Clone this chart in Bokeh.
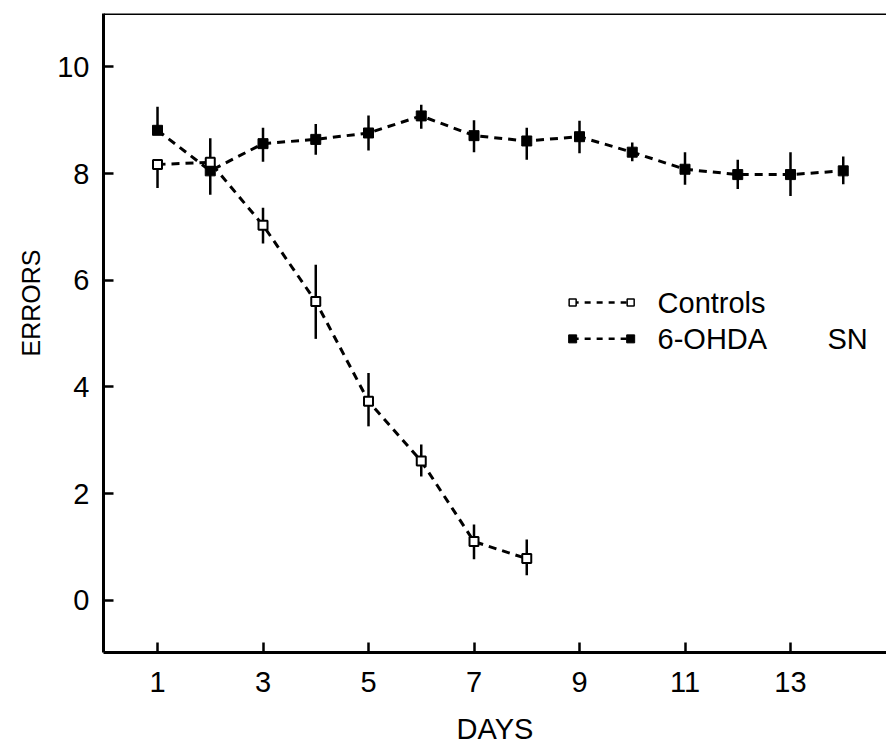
from bokeh.plotting import figure
from bokeh.models import Range1d, FixedTicker, Span, Label, Title
from bokeh.embed import file_html
from bokeh.resources import INLINE

# ---- data ----
days_controls = [1, 2, 3, 4, 5, 6, 7, 8]
errors_controls = [8.17, 8.21, 7.03, 5.60, 3.73, 2.61, 1.10, 0.78]
controls_hi = [8.17, 8.21, 7.36, 6.29, 4.26, 2.92, 1.42, 1.14]
controls_lo = [7.73, 8.21, 6.69, 4.90, 3.26, 2.32, 0.77, 0.47]

days_ohda = [1, 2, 3, 4, 5, 6, 7, 8, 9, 10, 11, 12, 13, 14]
errors_ohda = [8.81, 8.05, 8.56, 8.64, 8.76, 9.08, 8.71, 8.61, 8.69, 8.40, 8.08, 7.98, 7.98, 8.05]
ohda_hi = [9.25, 8.66, 8.86, 8.93, 9.09, 9.29, 9.00, 8.86, 8.99, 8.58, 8.40, 8.26, 8.40, 8.32]
ohda_lo = [8.81, 7.60, 8.22, 8.35, 8.43, 8.84, 8.40, 8.26, 8.38, 8.23, 7.79, 7.71, 7.58, 7.80]

x_ticks = [1, 3, 5, 7, 9, 11, 13]
y_ticks = [0, 2, 4, 6, 8, 10]

x_title = "DAYS"
y_title = "ERRORS"
legend_labels = ["Controls", "6-OHDA"]
legend_suffix = "SN"

FONT = "Liberation Sans"

p = figure(width=886, height=747, output_backend="svg", toolbar_location=None,
           x_range=Range1d(-0.024, 14.82), y_range=Range1d(-0.98, 11.0),
           min_border_left=103, min_border_right=0, min_border_top=13, min_border_bottom=95)
p.outline_line_color = None
p.grid.visible = False
p.background_fill_color = "white"

for ax in (p.xaxis[0], p.yaxis[0]):
    ax.axis_line_width = 3
    ax.axis_line_color = "black"
    ax.major_tick_in = 10
    ax.major_tick_out = 0
    ax.major_tick_line_width = 2.5
    ax.minor_tick_line_color = None
    ax.major_label_text_font = FONT
    ax.major_label_text_font_size = "29px"
    ax.major_label_text_color = "black"
    ax.axis_label_text_font = FONT
    ax.axis_label_text_font_style = "normal"
    ax.axis_label_text_color = "black"

p.xaxis.axis_label_text_font_size = "29px"
p.xaxis.ticker = FixedTicker(ticks=x_ticks)
p.yaxis.ticker = FixedTicker(ticks=y_ticks)
p.xaxis.major_label_standoff = 19
p.yaxis.major_label_standoff = 14
p.xaxis.axis_label = x_title
p.xaxis.axis_label_standoff = 18

# y title: a side title, shifted up from the frame's middle as in the original
p.add_layout(Title(text=y_title, align="right", offset=236, standoff=20,
                   text_font=FONT, text_font_size="25px", text_font_style="normal",
                   text_color="black"), "left")

# top border
p.add_layout(Span(location=11.0, dimension="width", line_width=3, line_color="black"))

DASH = "8 6"
# error bars
p.segment(x0=days_controls, y0=controls_lo, x1=days_controls, y1=controls_hi,
          line_color="black", line_width=2.5)
p.segment(x0=days_ohda, y0=ohda_lo, x1=days_ohda, y1=ohda_hi,
          line_color="black", line_width=2.5)
# lines
p.line(days_controls, errors_controls, line_color="black", line_width=3, line_dash=DASH)
p.line(days_ohda, errors_ohda, line_color="black", line_width=3, line_dash=DASH)
# markers
p.scatter(days_ohda, errors_ohda, marker="square", size=10, fill_color="black",
          line_color="black", line_width=1)
p.scatter(days_controls, errors_controls, marker="square", size=9, fill_color="white",
          line_color="black", line_width=2)

# custom legend
lx0, lx1 = 8.87, 9.97
ly = [5.58, 4.90]
p.line([lx0, lx1], [ly[0], ly[0]], line_color="black", line_width=2.5, line_dash="6 6")
p.line([lx0, lx1], [ly[1], ly[1]], line_color="black", line_width=2.5, line_dash="6 6")
p.scatter([lx0, lx1], [ly[0], ly[0]], marker="square", size=7, fill_color="white",
          line_color="black", line_width=1.5)
p.scatter([lx0, lx1], [ly[1], ly[1]], marker="square", size=8, fill_color="black",
          line_color="black")
for lab, yy in zip(legend_labels, ly):
    p.add_layout(Label(x=10.48, y=yy, text=lab, text_font=FONT, text_font_size="29px",
                       text_baseline="middle", text_color="black"))
p.add_layout(Label(x=13.70, y=ly[1], text=legend_suffix, text_font=FONT,
                   text_font_size="29px", text_baseline="middle", text_color="black"))

open("out.html", "w").write(file_html(p, INLINE))
